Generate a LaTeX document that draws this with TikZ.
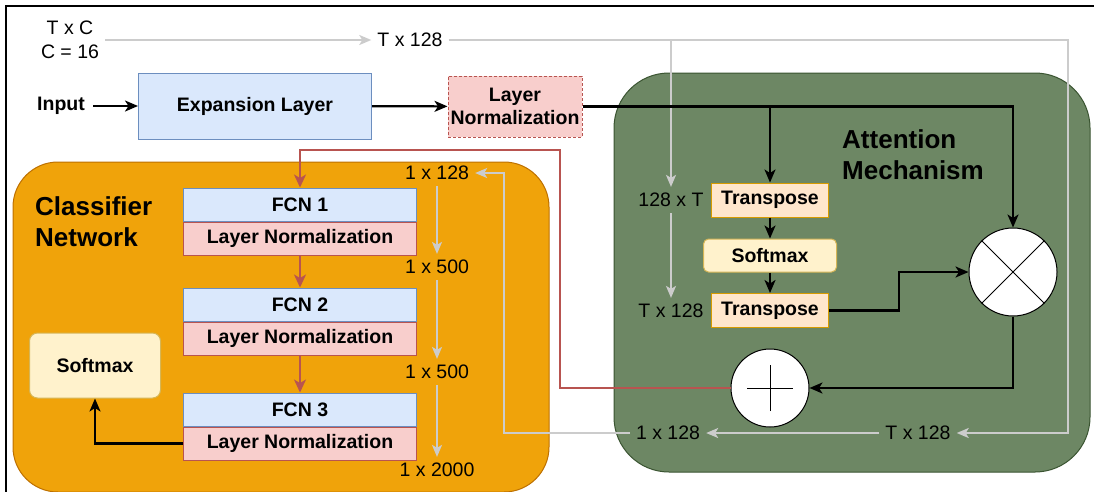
\documentclass[tikz,border=0pt]{standalone}
\usepackage{fontspec}
\setmainfont{Liberation Sans}
\usetikzlibrary{arrows.meta}

\definecolor{blueFill}{HTML}{DAE8FC}
\definecolor{blueLine}{HTML}{6C8EBF}
\definecolor{redFill}{HTML}{F8CECC}
\definecolor{redLine}{HTML}{B85450}
\definecolor{yellowFill}{HTML}{FFF2CC}
\definecolor{yellowLine}{HTML}{D6B656}
\definecolor{peachFill}{HTML}{FFE6CC}
\definecolor{peachLine}{HTML}{D79B00}
\definecolor{orangeFill}{HTML}{F0A30A}
\definecolor{orangeLine}{HTML}{BD7000}
\definecolor{greenFill}{HTML}{6D8764}
\definecolor{greenLine}{HTML}{3A5431}
\definecolor{lightGray}{HTML}{CCCCCC}

\begin{document}
\begin{tikzpicture}
		[x=1pt,y=-1pt,
		txt/.style={font=\fontsize{19.5}{23.5}\selectfont},
		boldTxt/.style={font=\fontsize{19.5}{23.5}\selectfont\bfseries},
		titleTxt/.style={font=\fontsize{26}{31}\selectfont\bfseries, inner sep=0pt, align=left, anchor=west},
		dimText/.style={txt, inner sep=6pt, align=center},
		blueBox/.style={boldTxt, draw=blueLine, fill=blueFill, line width=1pt, inner sep=0pt},
		redBox/.style={boldTxt, draw=redLine, fill=redFill, line width=1pt, inner sep=0pt},
		peachBox/.style={boldTxt, draw=peachLine, fill=peachFill, line width=1pt, inner sep=0pt},
		yellowBox/.style={boldTxt, draw=yellowLine, fill=yellowFill, line width=1pt, inner sep=0pt},
		opCircle/.style={circle, draw, fill=white, line width=1pt, inner sep=0pt},
		blackArrow/.style={line width=2.2pt, -{Stealth[length=13pt,width=11pt,inset=3.5pt]}},
		redArrow/.style={draw=redLine, line width=2pt, -{Stealth[length=13pt,width=12pt,inset=3.5pt]}},
		grayArrow/.style={draw=lightGray, line width=2pt, -{Stealth[length=12pt,width=10pt,inset=3pt]}}]
		
		\clip (0,0) rectangle (1094,491);
		
		% 外框
		\draw[line width=1.5pt] (6,500) -- (6,6) -- (1100,6);
		
		% 两个大的背景框
		\node[draw=orangeLine, fill=orangeFill, line width=1pt, rounded corners=45pt,
		      minimum width=536pt, minimum height=330pt] (clsBox) at (281,327) {};
		\node[draw=greenLine, fill=greenFill, line width=1pt, rounded corners=55pt,
		      minimum width=476pt, minimum height=399pt] (attBox) at (852,272.5) {};
		
		% 标题
		\node[titleTxt] (clsTitle) at (35,221.5) {Classifier\\Network};
		\node[titleTxt] (attTitle) at (842,155) {Attention\\Mechanism};
		
		% 输入与扩展层
		\node[boldTxt, inner sep=8pt] (input) at (61,106) {Input};
		\node[blueBox, minimum width=233pt, minimum height=66pt] (exp) at (255,106) {Expansion Layer};
		\node[redBox, dashed, dash pattern=on 3pt off 2pt, align=center,
		      minimum width=134pt, minimum height=61pt] (ln0) at (515,106.5) {Layer\\Normalization};
		
		% 注意力模块
		\node[peachBox, minimum width=117pt, minimum height=34pt] (tr1) at (770,200) {Transpose};
		\node[yellowBox, rounded corners=5pt, minimum width=133pt, minimum height=33pt] (sm2) at (770,255.5) {Softmax};
		\node[peachBox, minimum width=117pt, minimum height=34pt] (tr2) at (770,310.5) {Transpose};
		\node[opCircle, minimum size=88pt] (mul) at (1013,272) {};
		\node[opCircle, minimum size=78pt] (add) at (770,388) {};
		\draw[line width=1pt] (mul.north west) -- (mul.south east) (mul.north east) -- (mul.south west);
		\draw[line width=1pt] ([xshift=-23pt]add.center) -- ([xshift=23pt]add.center)
		                      ([yshift=-23pt]add.center) -- ([yshift=23pt]add.center);
		
		% 分类网络
		\foreach \i/\y in {1/204.5,2/304.5,3/409.5}
		{
			\node[blueBox, minimum width=233pt, minimum height=33pt] (fcn\i) at (300,\y) {FCN \i};
			\node[redBox, minimum width=233pt, minimum height=33pt, anchor=north] (ln\i) at (fcn\i.south) {Layer Normalization};
		}
		\node[yellowBox, rounded corners=8pt, minimum width=131pt, minimum height=65pt] (sm1) at (95,365.5) {Softmax};
		
		% 维度标注
		\node[dimText] (dIn) at (70,40) {T x C\\C = 16};
		\node[dimText] (dA) at (410,40) {T x 128};
		\node[dimText] (dB) at (671,200) {128 x T};
		\node[dimText] (dC) at (671,311) {T x 128};
		\node[dimText] (dE) at (918,433) {T x 128};
		\node[dimText] (dF) at (668,433) {1 x 128};
		\foreach \i/\y/\t in {1/173/{1 x 128},2/267/{1 x 500},3/372/{1 x 500},4/470/{1 x 2000}}
		\node[dimText] (fd\i) at (437,\y) {\t};
		
		% 灰色的维度箭头
		\coordinate (gTurn) at (1068,40);
		\draw[grayArrow] (dIn) -- (dA);
		\draw[grayArrow] (dA) -- (gTurn) |- (dE);
		\draw[grayArrow] (dA.east -| dB) -- (dB);
		\draw[grayArrow] (dB) -- (dC);
		\draw[grayArrow] (dE) -- (dF);
		\draw[grayArrow] (dF.west) -- ++(-126,0) |- (fd1.east);
		\foreach \i/\j in {1/2,2/3,3/4}
		\draw[grayArrow] (fd\i) -- (fd\j);
		
		% 黑色连线
		\draw[blackArrow] (input) -- (exp);
		\draw[blackArrow] (exp) -- (ln0);
		\draw[blackArrow] (ln0.east) -| (mul.north);
		\draw[blackArrow] (ln0.east -| tr1.north) -- (tr1.north);
		\draw[blackArrow] (tr1) -- (sm2);
		\draw[blackArrow] (sm2) -- (tr2);
		\draw[blackArrow] (tr2.east) -- ++(70,0) |- (mul.west);
		\draw[blackArrow] (mul.south) |- (add.east);
		\draw[blackArrow] (ln3.west) -| (sm1.south);
		
		% 红色连线
		\draw[redArrow] (add.west) -- ++(-171,0) |- ([yshift=38pt]fcn1.north) -- (fcn1.north);
		\foreach \i/\j in {1/2,2/3}
		\draw[redArrow] (ln\i) -- (fcn\j);
		
	\end{tikzpicture}
\end{document}
